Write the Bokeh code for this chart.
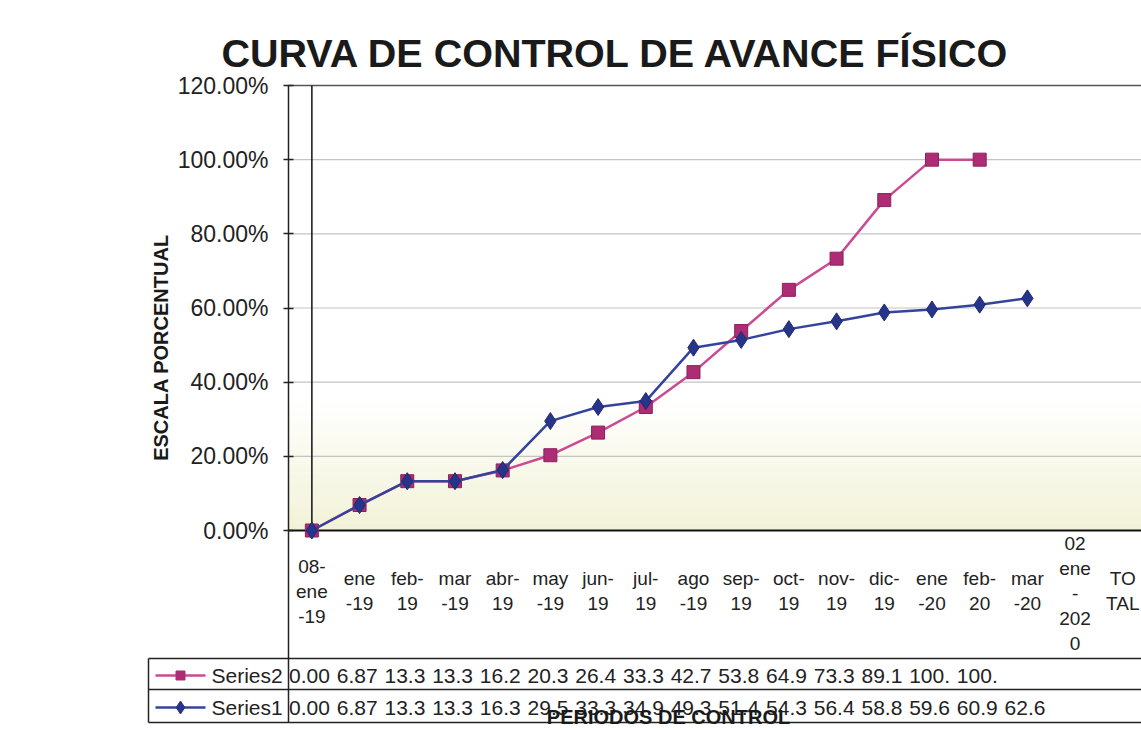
import math
from bokeh.plotting import figure
from bokeh.models import Range1d, FixedTicker, PrintfTickFormatter, LinearAxis
from bokeh.embed import file_html
from bokeh.resources import INLINE
from bokeh.core.properties import value

# ---------------- data ----------------
categories = ["08-\nene\n-19", "ene\n-19", "feb-\n19", "mar\n-19", "abr-\n19", "may\n-19",
              "jun-\n19", "jul-\n19", "ago\n-19", "sep-\n19", "oct-\n19", "nov-\n19",
              "dic-\n19", "ene\n-20", "feb-\n20", "mar\n-20", "02\nene\n-\n202\n0", "TO\nTAL"]
series2 = [0.00, 6.87, 13.3, 13.3, 16.2, 20.3, 26.4, 33.3, 42.7, 53.8, 64.9, 73.3, 89.1, 100.0, 100.0]
series1 = [0.00, 6.87, 13.3, 13.3, 16.3, 29.5, 33.3, 34.9, 49.3, 51.4, 54.3, 56.4, 58.8, 59.6, 60.9, 62.6]
y_ticks = [0, 20, 40, 60, 80, 100, 120]
series_names = ["Series2", "Series1"]
title_text = "CURVA DE CONTROL DE AVANCE FÍSICO"
y_title = "ESCALA PORCENTUAL"
x_title = "PERIODOS DE CONTROL"

# ---------------- layout / styles ----------------
W, H = 1141, 730
TOP = 76                  # frame top (pixels)
PLOT_TOP = 85             # pixel row of 120 %
AX_X = 288                # y axis position (pixels)
Y0_PIX = 530              # pixel row of 0 %
PX = 47.7                 # pixels per category
PY = (Y0_PIX - PLOT_TOP) / 120.0
X0 = -0.49                # data x at the y axis
XL = X0 - AX_X / PX       # data x at the left edge of the frame
XR = XL + W / PX
YB = -(H - Y0_PIX) / PY
YT = (Y0_PIX - TOP) / PY


def dx(px):   # pixel column -> data x
    return XL + px / PX


def dy(py):   # pixel row -> data y
    return (Y0_PIX - py) / PY


FONT = "Liberation Sans"
TXT = "#222222"
C2_LINE, C2_FILL = "#CC4A92", "#AD2C74"
C1_LINE, C1_FILL = "#34449C", "#26358A"

p = figure(width=W, height=H, x_range=Range1d(XL, XR), y_range=Range1d(YB, YT),
           output_backend="svg", toolbar_location=None,
           min_border_left=0, min_border_right=0, min_border_top=TOP, min_border_bottom=0)
p.outline_line_color = None
p.background_fill_color = "white"
p.border_fill_color = "white"
p.grid.visible = False

p.title.text = title_text
p.title.text_font = FONT
p.title.text_font_size = "39.5px"
p.title.text_font_style = "bold"
p.title.text_color = "#1a1a1a"
p.title.align = "left"
p.title.offset = 221
p.title.standoff = 3

# pale yellow gradient near the bottom of the plot area
n = 40
top_fade = 36.0
band = top_fade / n
for k in range(n):
    t = k / (n - 1)
    r = int(round(242 + (255 - 242) * t))
    g = int(round(242 + (255 - 242) * t))
    b = int(round(216 + (255 - 216) * t))
    col = f"#{r:02x}{g:02x}{b:02x}"
    p.quad(left=X0, right=XR, bottom=k * band, top=(k + 1) * band,
           fill_color=col, line_color=col, line_width=1)

# horizontal gridlines, top border, axis lines, vertical line at first category
grid_vals = y_ticks[1:-1]
p.segment(x0=[X0] * len(grid_vals), y0=grid_vals, x1=[XR] * len(grid_vals), y1=grid_vals,
          line_color="#c4c4c4", line_width=1.2)
p.segment(x0=X0, y0=120, x1=XR, y1=120, line_color="#555555", line_width=1.5)
p.segment(x0=X0, y0=0, x1=XR, y1=0, line_color="#111111", line_width=2)
p.segment(x0=0, y0=0, x1=0, y1=120, line_color="#111111", line_width=1.5)
p.segment(x0=X0, y0=120, x1=X0, y1=dy(722), line_color="#222222", line_width=1.5)

# y axis, fixed at the plot-area edge
ya = p.yaxis[0]
ya.fixed_location = X0
ya.ticker = FixedTicker(ticks=y_ticks)
ya.formatter = PrintfTickFormatter(format="%.2f%%")
ya.major_label_text_font = FONT
ya.major_label_text_font_size = "23px"
ya.major_label_text_color = TXT
ya.major_label_standoff = 15
ya.axis_line_color = None
ya.major_tick_line_color = "#222222"
ya.major_tick_line_width = 1.5
ya.major_tick_in = 5
ya.major_tick_out = 5
ya.minor_tick_line_color = None

# y axis title (centred like the original, left of the tick labels)
p.text(x=[dx(160)], y=[dy(347)], text=[y_title], angle=math.pi / 2,
       text_font=value(FONT), text_font_size="20px", text_font_style="bold",
       text_color="#1a1a1a", text_align="center", text_baseline="middle")

# x axes (fixed at y = 0); split by label line count so each block is centred like the original
groups = {}
for i, c in enumerate(categories):
    groups.setdefault(c.count("\n") + 1, []).append(i)
standoff_for = {5: 2, 3: 25, 2: 37}
first = True
for nlines, ticks in sorted(groups.items()):
    if first:
        xa = p.xaxis[0]
        first = False
    else:
        xa = LinearAxis()
        p.add_layout(xa, "below")
    xa.fixed_location = 0
    xa.ticker = FixedTicker(ticks=ticks)
    xa.major_label_overrides = {i: categories[i] for i in ticks}
    xa.major_label_text_font = FONT
    xa.major_label_text_font_size = "19px"
    xa.major_label_text_color = TXT
    xa.major_label_standoff = standoff_for.get(nlines, 30)
    xa.major_tick_out = 0
    xa.major_tick_in = 0
    xa.major_tick_line_color = None
    xa.minor_tick_line_color = None
    xa.axis_line_color = None

# series
xs2 = list(range(len(series2)))
xs1 = list(range(len(series1)))
p.line(xs2, series2, line_color=C2_LINE, line_width=2.5)
p.scatter(xs2, series2, marker="square", size=13, fill_color=C2_FILL, line_color="#8a2060")
p.line(xs1, series1, line_color=C1_LINE, line_width=2.5)
p.scatter(xs1, series1, marker="diamond", size=17, fill_color=C1_FILL, line_color="#1e2a70")

# ---------------- data table ----------------
LC = "#222222"
TL, TR_ = dx(148), XR
rows_y = [dy(658), dy(689), dy(722)]
p.segment(x0=[TL] * 3, y0=rows_y, x1=[TR_] * 3, y1=rows_y, line_color=LC, line_width=1.5)
p.segment(x0=TL, y0=dy(658), x1=TL, y1=dy(722), line_color=LC, line_width=1.5)

rows = [(series2, dy(675), C2_LINE, C2_FILL, "square", 9),
        (series1, dy(707), C1_LINE, C1_FILL, "diamond", 13)]
for name, (vals, yy, lc, fc, mk, ms) in zip(series_names, rows):
    p.segment(x0=dx(155), y0=yy, x1=dx(205), y1=yy, line_color=lc, line_width=2.5)
    p.scatter([dx(180)], [yy], marker=mk, size=ms, fill_color=fc, line_color=fc)
    p.text(x=[dx(211)], y=[yy], text=[name], text_font=value(FONT),
           text_font_size="21px", text_color=TXT, text_align="left", text_baseline="middle")
    labels = [f"{v:.2f}"[:4] for v in vals]
    p.text(x=[i - 0.05 for i in range(len(vals))], y=[yy] * len(vals), text=labels,
           text_font=value(FONT), text_font_size="21px", text_color=TXT,
           text_align="center", text_baseline="middle")

p.text(x=[dx(668)], y=[dy(716)], text=[x_title], text_font=value(FONT),
       text_font_size="20px", text_font_style="bold", text_color="#1a1a1a",
       text_align="center", text_baseline="middle")

open("out.html", "w").write(file_html(p, INLINE))
